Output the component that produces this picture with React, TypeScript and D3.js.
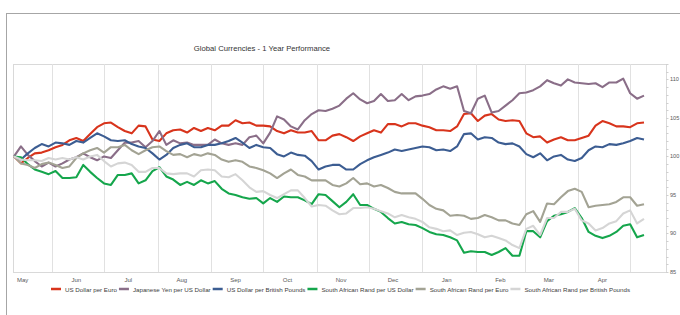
import React, { useEffect, useRef } from 'react';
import * as d3 from 'd3';

// Index values (start = 100), sampled every 4 days from 10 May 2013 to 9 May 2014
const usdPerEur = [
  100.0, 99.1, 99.8, 100.4, 100.5, 100.8, 101.2, 101.5, 102.1, 102.4,
  102.0, 102.9, 103.8, 104.3, 104.4, 103.8, 103.3, 103.0, 104.0, 103.9,
  102.2, 102.0, 103.0, 103.4, 103.5, 103.1, 103.7, 103.3, 103.7, 103.4,
  104.0, 104.0, 104.7, 104.3, 104.4, 104.0, 104.0, 103.9, 103.3, 103.0,
  103.4, 103.1, 103.1, 103.3, 102.1, 102.1, 102.7, 102.9, 102.5, 102.0,
  102.6, 103.0, 103.4, 103.1, 104.2, 104.2, 103.9, 104.3, 104.3, 104.0,
  103.8, 103.4, 103.4, 103.3, 103.9, 105.5, 105.6, 104.6, 105.3, 105.5,
  104.8, 104.6, 104.7, 104.6, 103.0, 102.5, 102.6, 101.8, 102.2, 102.5,
  102.1, 102.1, 102.4, 102.7, 104.0, 104.6, 104.3, 103.9, 103.9, 103.8,
  104.3, 104.4,
];
const jpyPerUsd = [
  100.0, 101.3, 100.2, 99.4, 98.7, 99.2, 98.7, 99.1, 99.6, 99.9,
  100.4, 99.9, 99.5, 100.0, 99.8, 100.8, 101.8, 101.8, 102.0, 101.2,
  102.0, 103.3, 101.5, 102.1, 101.7, 101.8, 101.5, 101.5, 101.5, 102.2,
  101.7, 101.5, 101.7, 101.5, 102.5, 102.7, 101.7, 103.1, 105.2, 104.8,
  103.9, 103.5, 104.7, 105.5, 106.0, 105.9, 106.2, 106.6, 107.5, 108.2,
  107.4, 106.9, 107.2, 108.1, 107.2, 107.3, 108.1, 107.3, 107.8, 107.9,
  108.1, 108.7, 109.1, 108.8, 109.1, 105.9, 105.6, 107.5, 107.9, 105.7,
  105.9, 106.6, 107.3, 108.2, 108.3, 108.6, 109.1, 109.9, 109.5, 109.2,
  110.0, 109.6, 109.5, 109.4, 109.5, 109.0, 109.6, 109.6, 110.1, 108.2,
  107.5, 107.9,
];
const usdPerGbp = [
  100.0, 99.6, 100.4, 101.1, 101.6, 101.3, 101.8, 101.7, 101.5, 102.0,
  101.8, 102.4, 103.0, 102.6, 102.1, 102.0, 102.1, 101.6, 101.3, 101.1,
  100.4, 99.6, 100.2, 101.1, 101.5, 101.7, 101.2, 101.2, 101.5, 101.5,
  101.7, 102.0, 102.4, 101.8, 101.1, 101.5, 101.2, 101.1, 100.3, 100.0,
  100.5, 100.2, 100.1, 99.4, 98.3, 98.7, 98.9, 98.9, 98.3, 98.3,
  99.0, 99.5, 99.9, 100.2, 100.5, 100.9, 100.7, 100.9, 101.1, 101.3,
  101.2, 100.8, 100.9, 100.7, 101.3, 102.9, 103.0, 102.2, 102.5, 102.4,
  101.8, 101.6, 101.7, 101.3, 100.3, 99.9, 100.4, 99.5, 100.0, 100.2,
  99.6, 99.4, 99.8, 100.8, 101.3, 101.2, 101.6, 101.5, 101.7, 102.0,
  102.4, 102.2,
];
const zarPerUsd = [
  100.0, 99.9, 99.0, 98.3, 98.0, 97.7, 98.1, 97.2, 97.2, 97.3,
  98.9, 98.0, 97.2, 96.5, 96.3, 97.6, 97.6, 97.8, 96.5, 96.9,
  98.1, 98.6, 97.4, 97.0, 96.3, 96.7, 96.3, 96.9, 96.5, 96.8,
  95.8, 95.2, 95.0, 94.7, 94.5, 94.6, 93.9, 94.6, 94.1, 94.8,
  94.7, 94.7, 94.3, 93.8, 95.1, 95.0, 94.2, 93.4, 94.1, 95.1,
  93.7, 93.7, 93.2, 92.8, 92.0, 91.3, 91.5, 91.2, 91.1, 90.7,
  90.2, 89.9, 89.8, 89.5, 89.1, 87.5, 87.7, 87.6, 87.6, 87.2,
  87.6, 88.1, 87.1, 87.1, 90.3, 90.3, 89.5, 91.6, 92.3, 92.5,
  92.8, 93.3, 92.0, 90.2, 89.7, 89.4, 89.7, 90.2, 91.0, 91.2,
  89.5, 89.8,
];
const zarPerEur = [
  100.0, 99.1, 98.9, 98.5, 99.0, 99.2, 98.9, 98.5, 98.7, 99.8,
  100.4, 100.8, 101.1, 100.5, 101.2, 101.2, 101.5, 100.8, 100.3, 100.8,
  101.2, 101.3, 100.7, 100.2, 100.3, 99.9, 100.3, 100.1, 100.4, 100.2,
  99.6, 99.3, 99.5, 99.3, 98.7, 98.5, 98.2, 97.8, 97.2, 97.8,
  98.3, 97.6, 97.4, 96.9, 96.9, 96.9, 96.3, 96.1, 96.5, 97.2,
  96.4, 96.5, 96.1, 96.3, 95.9, 95.4, 95.2, 95.2, 95.2, 94.5,
  93.7, 93.2, 93.0, 92.3, 92.4, 92.3, 91.9, 92.0, 92.4, 92.1,
  91.7, 91.7, 91.3, 91.1, 92.5, 92.9, 91.5, 93.9, 93.8, 94.7,
  95.5, 95.8, 95.4, 93.4, 93.6, 93.7, 93.8, 94.1, 94.7, 94.7,
  93.6, 93.8,
];
const zarPerGbp = [
  100.0, 99.6, 99.5, 99.5, 99.4, 99.8, 99.6, 99.8, 99.6, 99.9,
  99.6, 100.0, 100.2, 99.4, 98.7, 99.1, 99.2, 98.9, 98.0, 98.0,
  98.5, 98.5, 97.8, 97.7, 97.8, 97.8, 97.4, 98.2, 98.3, 98.2,
  97.4, 97.3, 97.7, 96.9, 96.0, 95.4, 95.5, 95.0, 94.6, 95.1,
  95.6, 95.6, 94.6, 93.5, 93.7, 93.6, 93.0, 92.5, 92.6, 93.3,
  93.3, 93.4, 93.2, 92.9, 92.6, 92.1, 92.4, 92.1, 91.9, 91.5,
  90.8, 90.6, 90.3, 90.4, 89.8, 90.1, 90.2, 89.9, 89.5, 89.7,
  89.4, 89.1, 88.5, 88.1, 90.6, 91.0, 89.8, 92.0, 92.0, 92.8,
  92.8, 93.2, 91.7, 91.3, 90.4, 90.7, 91.3, 91.6, 92.6, 93.0,
  91.3, 91.9,
];

const seriesNames = [
  'US Dollar per Euro',
  'Japanese Yen per US Dollar',
  'US Dollar per British Pounds',
  'South African Rand per US Dollar',
  'South African Rand per Euro',
  'South African Rand per British Pounds',
];
const seriesValues = [usdPerEur, jpyPerUsd, usdPerGbp, zarPerUsd, zarPerEur, zarPerGbp];
const seriesColors = ['#d8341c', '#8a6e88', '#3c5d92', '#15a64c', '#a3a394', '#d5d5d5'];

const yTicks = [85, 90, 95, 100, 105, 110];
const monthLabels = ['May', 'Jun', 'Jul', 'Aug', 'Sep', 'Oct', 'Nov', 'Dec', 'Jan', 'Feb', 'Mar', 'Apr'];
const titleText = 'Global Currencies - 1 Year Performance';

const startDate = new Date(2013, 4, 10);
const endDate = new Date(2014, 4, 9);
const stepDays = 4;

const FONT = '"Liberation Sans", Arial, Helvetica, sans-serif';

export default function App() {
  const ref = useRef<SVGSVGElement>(null);

  useEffect(() => {
    const svg = d3.select(ref.current);
    svg.selectAll('*').remove();

    const plot = { left: 13, right: 666, top: 64, bottom: 272 };
    const x = d3.scaleTime().domain([startDate, endDate]).range([14, 644]);
    const y = d3.scaleLinear().domain([85, 112]).range([plot.bottom, plot.top]);

    // outer frame
    svg.append('rect')
      .attr('x', 6.5).attr('y', 13.5).attr('width', 700).attr('height', 400)
      .attr('fill', '#fff').attr('stroke', '#a6a6a6').attr('stroke-width', 1);

    // title
    svg.append('text')
      .attr('x', 262).attr('y', 48)
      .attr('text-anchor', 'middle').attr('dominant-baseline', 'central')
      .attr('font-family', FONT).attr('font-size', 7.7).attr('fill', '#333')
      .text(titleText);

    // plot area border
    svg.append('rect')
      .attr('x', plot.left + 0.5).attr('y', plot.top + 0.5)
      .attr('width', plot.right - plot.left).attr('height', plot.bottom - plot.top)
      .attr('fill', 'none').attr('stroke', '#d9d9d9');

    // month gridlines
    const gridMonths = d3.timeMonth.range(new Date(2013, 5, 1), new Date(2014, 4, 2));
    svg.append('g').selectAll('line').data(gridMonths).join('line')
      .attr('x1', (d) => Math.round(x(d)) + 0.5).attr('x2', (d) => Math.round(x(d)) + 0.5)
      .attr('y1', plot.top).attr('y2', plot.bottom)
      .attr('stroke', '#e1e1e1').attr('stroke-width', 1);

    // month labels at mid-month
    const labelDates = monthLabels.map((_, i) => new Date(2013, 4 + i, 15));
    svg.append('g').selectAll('text').data(labelDates).join('text')
      .attr('x', (d) => x(d)).attr('y', 280)
      .attr('text-anchor', 'middle').attr('dominant-baseline', 'central')
      .attr('font-family', FONT).attr('font-size', 6).attr('fill', '#595959')
      .text((_, i) => monthLabels[i]);

    // right axis minor ticks + labels
    const minor = d3.range(85, 113, 1);
    svg.append('g').selectAll('line').data(minor).join('line')
      .attr('x1', plot.right).attr('x2', plot.right + 2.5)
      .attr('y1', (d) => Math.round(y(d)) + 0.5).attr('y2', (d) => Math.round(y(d)) + 0.5)
      .attr('stroke', '#d0d0d0');
    svg.append('g').selectAll('text').data(yTicks).join('text')
      .attr('x', 670).attr('y', (d) => y(d))
      .attr('dominant-baseline', 'central')
      .attr('font-family', FONT).attr('font-size', 5.6).attr('fill', '#595959')
      .text((d) => String(d));

    // lines
    const line = d3.line<number>()
      .x((_, i) => x(d3.timeDay.offset(startDate, i * stepDays)))
      .y((d) => y(d))
      .curve(d3.curveLinear);
    const lg = svg.append('g');
    seriesValues.forEach((vals, k) => {
      lg.append('path')
        .attr('d', line(vals) as string)
        .attr('fill', 'none')
        .attr('stroke', seriesColors[k])
        .attr('stroke-width', 2.1)
        .attr('stroke-linejoin', 'round');
    });

    // legend
    const legY = 289;
    const leg = svg.append('g');
    const items = seriesNames.map((name, k) => {
      const g = leg.append('g');
      const sw = g.append('line')
        .attr('y1', legY).attr('y2', legY)
        .attr('stroke', seriesColors[k]).attr('stroke-width', 2.5);
      const t = g.append('text')
        .attr('y', legY).attr('dominant-baseline', 'central')
        .attr('font-family', FONT).attr('font-size', 6.2).attr('fill', '#404040')
        .text(name);
      const w = (t.node() as SVGTextElement).getComputedTextLength();
      return { sw, t, w };
    });
    const swW = 10, gap1 = 4, gap2 = 2;
    const total = d3.sum(items, (it) => swW + gap1 + it.w + gap2) - gap2;
    let cx = 340.5 - total / 2;
    items.forEach((it) => {
      it.sw.attr('x1', cx).attr('x2', cx + swW);
      it.t.attr('x', cx + swW + gap1);
      cx += swW + gap1 + it.w + gap2;
    });
  }, []);

  return (
    <svg
      ref={ref}
      width={680}
      height={315}
      style={{ position: 'absolute', left: 0, top: 0, background: '#fff' }}
    />
  );
}
